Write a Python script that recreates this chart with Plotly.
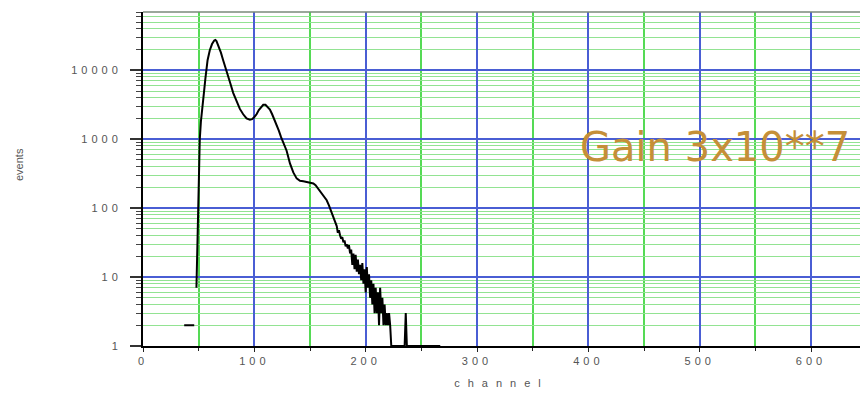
import math
import plotly.graph_objects as go

# Pulse-height spectrum: channel number vs. number of events
channels = [37, 46, 47,
            48, 49, 50, 51, 52, 53, 54, 55, 56, 57, 58, 60, 62, 64, 65, 66, 68, 70,
            72, 75, 78, 81, 84, 87, 90, 93, 96, 98, 100, 102, 104, 106, 108, 110,
            112, 114, 116, 118, 120, 122, 124, 126, 129, 132, 135, 138, 141, 144,
            147, 150, 153, 155, 157, 159, 161, 163, 165, 167, 169, 171, 172, 173,
            174, 175, 176, 177, 178, 179, 180, 181, 182, 183, 184, 185, 186, 187,
            188, 189, 190, 191, 192, 193, 194, 195, 196, 197, 198, 199, 200, 201,
            202, 203, 204, 205, 206, 207, 208, 209, 210, 211, 212, 213, 214, 215,
            216, 217, 218, 219, 220, 221, 222, 223, 235, 236, 237, 267]
events = [2, 2, None,
          7, 40, 180, 1000, 1800, 2800, 3800, 5200, 7500, 10500, 14000, 19500,
          24000, 27000, 27500, 26500, 22500, 18000, 14000, 10000, 6800, 4700,
          3500, 2750, 2300, 2000, 1920, 1950, 2100, 2300, 2650, 2950, 3150, 3150,
          2950, 2700, 2300, 1950, 1650, 1330, 1070, 880, 680, 445, 330, 270, 250,
          245, 240, 235, 228, 215, 195, 175, 160, 145, 130, 110, 90, 72, 68, 58,
          55, 44, 48, 40, 36, 38, 32, 34, 28, 30, 26, 29, 22, 25, 15, 22, 13, 21,
          12, 18, 11, 15, 9, 16, 8, 13, 6, 14, 7, 11, 5, 9, 4, 8, 3, 7, 3, 6, 2,
          7, 3, 5, 2, 4, 2, 3, 2, 3, 2, 1, 1, 3, 1, 1]

x_ticks = [0, 100, 200, 300, 400, 500, 600]
y_ticks = [1, 10, 100, 1000, 10000]
y_labels = ["1", "10", "100", "1000", "10000"]
note = "Gain 3x10**7"

# minor log grid: 2..9 within each decade
y_minor = [m * 10 ** d for d in range(5) for m in range(2, 10)]

BLUE = "#4a5ed4"
GREEN = "#55da55"
LIGHT_GREEN = "#92e392"
LABEL_FONT = dict(family="Liberation Sans, Arial, sans-serif", size=11, color="#555555")

fig = go.Figure()
fig.add_trace(go.Scatter(
    x=channels, y=events, mode="lines",
    line=dict(color="black", width=2),
    connectgaps=False, showlegend=False, hoverinfo="skip",
))

fig.update_xaxes(
    range=[0, 644],
    tickvals=x_ticks, ticktext=[str(v) for v in x_ticks],
    tickfont=LABEL_FONT,
    ticks="outside", ticklen=4, tickcolor="#222", tickwidth=1,
    showgrid=True, gridcolor=BLUE, gridwidth=2,
    minor=dict(dtick=50, tick0=0, showgrid=True, gridcolor=GREEN, gridwidth=1.5,
               ticks="outside", ticklen=3, tickcolor="#222"),
    showline=True, linecolor="black", linewidth=2,
    zeroline=False,
    title=dict(text="channel", font=LABEL_FONT, standoff=13),
)
fig.update_yaxes(
    type="log", range=[0, math.log10(70000)],
    tickvals=y_ticks, ticktext=y_labels,
    tickfont=LABEL_FONT,
    ticks="outside", ticklen=11, tickcolor="#333", tickwidth=1.5,
    ticklabelstandoff=6,
    showgrid=True, gridcolor=BLUE, gridwidth=2,
    minor=dict(tickmode="array", tickvals=y_minor,
               showgrid=True, gridcolor=LIGHT_GREEN, gridwidth=1,
               ticks="outside", ticklen=5, tickcolor="#444", tickwidth=1),
    showline=True, linecolor="black", linewidth=2,
    zeroline=False,
)

fig.add_annotation(
    text="events", textangle=-90, showarrow=False,
    xref="paper", yref="paper", x=(19 - 143) / 717, y=(346 - 165) / 334,
    xanchor="center", yanchor="middle", font=LABEL_FONT,
)
fig.add_annotation(
    text=note, showarrow=False,
    xref="paper", yref="paper", x=(715 - 143) / 717, y=(346 - 147) / 334,
    xanchor="center", yanchor="middle",
    font=dict(family="DejaVu Sans", size=40, color="#c58f38"),
)
fig.add_shape(type="line", xref="paper", yref="paper", x0=0, x1=1, y0=1, y1=1,
              line=dict(color="#7a8a7a", width=1.5))

fig.update_layout(
    width=860, height=396,
    margin=dict(l=143, r=0, t=12, b=50),
    paper_bgcolor="white", plot_bgcolor="white",
)

# widen the letter spacing of axis labels after the plot is drawn
spacing_js = """
var gd = document.getElementById('{plot_id}');
function spaceLabels() {
  gd.querySelectorAll('.xtick text, .ytick text').forEach(function (t) {
    t.style.letterSpacing = '4px';
  });
  gd.querySelectorAll('.xtitle').forEach(function (t) {
    t.style.letterSpacing = '8px';
  });
}
spaceLabels();
gd.on('plotly_afterplot', spaceLabels);
"""

fig.write_html("out.html", post_script=spacing_js)
